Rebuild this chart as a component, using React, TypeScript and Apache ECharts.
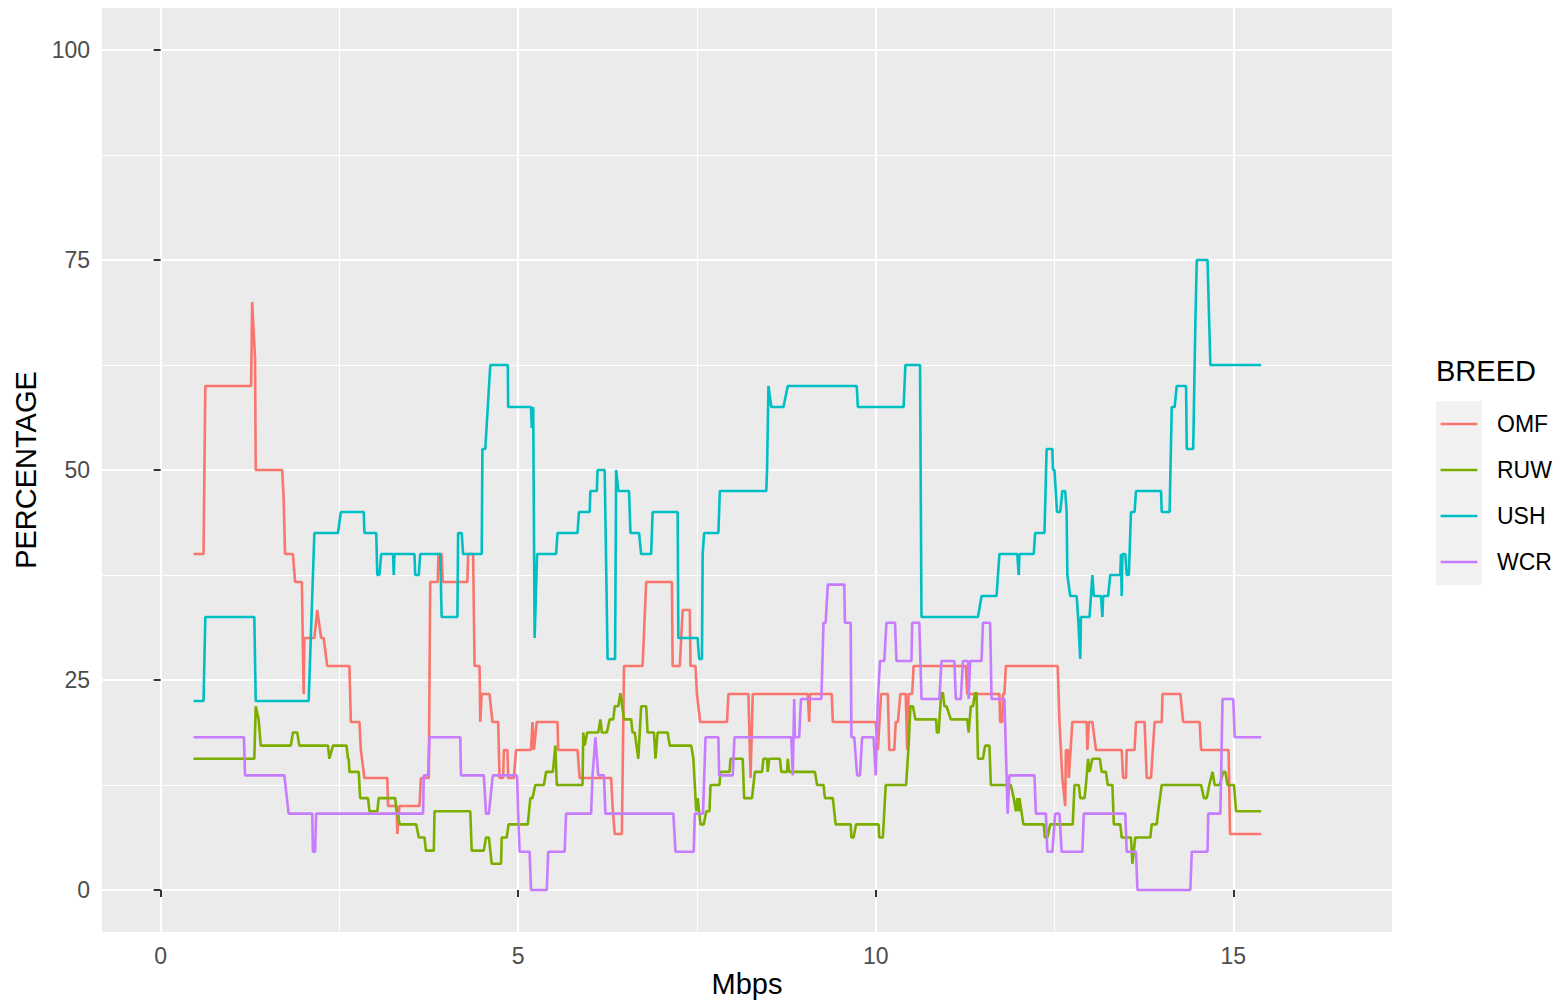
import React, { useEffect, useRef } from 'react';
import * as echarts from 'echarts';

const FONT = 'Liberation Sans, Arial, Helvetica, sans-serif';

const BREEDS = ['OMF', 'RUW', 'USH', 'WCR'];
const COLORS = ['#F8766D', '#7CAE00', '#00BFC4', '#C77CFF'];

const X_TICKS = [0, 5, 10, 15];
const X_MINOR = [2.5, 7.5, 12.5];
const Y_TICKS = [0, 25, 50, 75, 100];
const Y_MINOR = [12.5, 37.5, 62.5, 87.5];

const OMF = [
  [0.46, 40], [0.6, 40], [0.625, 60], [1.265, 60], [1.28, 70], [1.32, 63.33], [1.33, 50], [1.7, 50],
  [1.72, 46.67], [1.74, 40], [1.85, 40], [1.88, 36.67], [1.975, 36.67], [2.0, 23.33], [2.01, 30],
  [2.15, 30], [2.19, 33.33], [2.245, 30], [2.28, 30], [2.33, 26.67], [2.64, 26.67], [2.66, 20],
  [2.78, 20], [2.8, 16.67], [2.85, 13.33], [3.17, 13.33], [3.18, 10], [3.3, 10], [3.31, 6.67],
  [3.34, 10], [3.62, 10], [3.64, 13.33], [3.75, 13.33], [3.77, 36.67], [3.875, 36.67], [3.885, 40],
  [3.93, 40], [3.945, 36.67], [4.29, 36.67], [4.3, 40], [4.37, 40], [4.39, 26.67], [4.46, 26.67],
  [4.47, 20], [4.49, 23.33], [4.6, 23.33], [4.64, 20], [4.72, 20], [4.74, 13.33], [4.79, 13.33],
  [4.8, 16.67], [4.85, 16.67], [4.86, 13.33], [4.94, 13.33], [4.97, 16.67], [5.18, 16.67], [5.2, 20],
  [5.22, 16.67], [5.26, 20], [5.55, 20], [5.56, 16.67], [5.83, 16.67], [5.86, 13.33], [6.3, 13.33],
  [6.32, 10], [6.35, 6.67], [6.45, 6.67], [6.48, 26.67], [6.74, 26.67], [6.79, 36.67], [7.15, 36.67],
  [7.16, 26.67], [7.26, 26.67], [7.3, 33.33], [7.4, 33.33], [7.41, 26.67], [7.48, 26.67], [7.5, 23.33],
  [7.545, 20], [7.92, 20], [7.94, 23.33], [8.22, 23.33], [8.25, 13.33], [8.28, 23.33], [9.05, 23.33],
  [9.07, 20], [9.08, 23.33], [9.385, 23.33], [9.4, 20], [10.0, 20], [10.03, 16.67], [10.075, 23.33],
  [10.17, 23.33], [10.19, 16.67], [10.26, 16.67], [10.28, 20], [10.31, 20], [10.345, 23.33], [10.42, 23.33],
  [10.44, 16.67], [10.46, 23.33], [10.51, 23.33], [10.53, 26.67], [11.26, 26.67], [11.28, 23.33],
  [11.73, 23.33], [11.74, 20], [11.77, 20], [11.78, 23.33], [11.8, 23.33], [11.82, 26.67], [12.545, 26.67],
  [12.57, 20], [12.61, 13.33], [12.65, 10], [12.66, 16.67], [12.69, 16.67], [12.7, 13.33], [12.75, 20],
  [12.95, 20], [12.96, 16.67], [12.98, 20], [13.03, 20], [13.08, 16.67], [13.44, 16.67], [13.46, 13.33],
  [13.5, 13.33], [13.51, 16.67], [13.62, 16.67], [13.64, 20], [13.76, 20], [13.79, 13.33], [13.85, 13.33],
  [13.9, 20], [14.0, 20], [14.01, 23.33], [14.26, 23.33], [14.3, 20], [14.53, 20], [14.55, 16.67],
  [14.935, 16.67], [14.955, 6.67], [15.39, 6.67],
];

const RUW = [
  [0.46, 15.625], [1.31, 15.625], [1.33, 21.875], [1.37, 20.31], [1.4, 17.19], [1.82, 17.19], [1.85, 18.75],
  [1.91, 18.75], [1.94, 17.19], [2.34, 17.19], [2.36, 15.625], [2.41, 17.19], [2.6, 17.19], [2.62, 15.625],
  [2.63, 15.625], [2.64, 14.06], [2.77, 14.06], [2.79, 10.94], [2.9, 10.94], [2.92, 9.375], [3.03, 9.375],
  [3.05, 10.94], [3.28, 10.94], [3.3, 9.375], [3.345, 7.81], [3.575, 7.81], [3.61, 6.25], [3.69, 6.25],
  [3.71, 4.69], [3.82, 4.69], [3.83, 9.375], [4.33, 9.375], [4.35, 4.69], [4.52, 4.69], [4.55, 6.25],
  [4.59, 6.25], [4.63, 3.125], [4.76, 3.125], [4.77, 6.25], [4.84, 6.25], [4.865, 7.81], [5.135, 7.81],
  [5.17, 10.94], [5.2, 10.94], [5.24, 12.5], [5.36, 12.5], [5.39, 14.06], [5.485, 14.06], [5.52, 17.19],
  [5.54, 12.5], [5.9, 12.5], [5.91, 18.75], [5.93, 17.19], [5.965, 18.75], [6.12, 18.75], [6.15, 20.31],
  [6.17, 18.75], [6.24, 18.75], [6.28, 20.31], [6.33, 20.31], [6.35, 21.875], [6.4, 21.875], [6.43, 23.44],
  [6.455, 21.875], [6.48, 20.31], [6.58, 20.31], [6.6, 18.75], [6.63, 18.75], [6.68, 15.625], [6.72, 21.875],
  [6.79, 21.875], [6.81, 18.75], [6.9, 18.75], [6.92, 15.625], [6.95, 18.75], [7.09, 18.75], [7.12, 17.19],
  [7.42, 17.19], [7.45, 15.625], [7.49, 9.375], [7.51, 10.94], [7.55, 7.81], [7.595, 7.81], [7.63, 9.375],
  [7.675, 9.375], [7.69, 12.5], [7.815, 12.5], [7.83, 14.06], [7.955, 14.06], [7.97, 15.625], [8.14, 15.625],
  [8.16, 10.94], [8.27, 10.94], [8.29, 12.5], [8.31, 14.06], [8.41, 14.06], [8.43, 15.625], [8.48, 15.625],
  [8.49, 14.06], [8.51, 15.625], [8.66, 15.625], [8.68, 14.06], [8.76, 14.06], [8.77, 15.625], [8.79, 14.06],
  [9.15, 14.06], [9.18, 12.5], [9.27, 12.5], [9.29, 10.94], [9.4, 10.94], [9.44, 7.81], [9.65, 7.81],
  [9.66, 6.25], [9.69, 6.25], [9.725, 7.81], [10.04, 7.81], [10.05, 6.25], [10.1, 6.25], [10.12, 9.375],
  [10.14, 12.5], [10.425, 12.5], [10.46, 17.19], [10.485, 21.875], [10.52, 21.875], [10.555, 20.31],
  [10.845, 20.31], [10.855, 18.75], [10.88, 18.75], [10.915, 23.44], [10.94, 23.44], [10.96, 21.875],
  [10.99, 21.875], [11.05, 20.31], [11.28, 20.31], [11.3, 18.75], [11.33, 21.875], [11.36, 21.875],
  [11.39, 23.44], [11.41, 23.44], [11.43, 15.625], [11.5, 15.625], [11.53, 17.19], [11.59, 17.19],
  [11.61, 12.5], [11.89, 12.5], [11.93, 10.94], [11.96, 9.375], [11.98, 10.94], [12.0, 9.375], [12.01, 10.94],
  [12.065, 7.81], [12.35, 7.81], [12.365, 6.25], [12.4, 6.25], [12.44, 7.81], [12.755, 7.81], [12.78, 12.5],
  [12.84, 12.5], [12.86, 10.94], [12.92, 10.94], [12.94, 12.5], [12.97, 15.625], [12.99, 14.06],
  [13.03, 15.625], [13.135, 15.625], [13.16, 14.06], [13.22, 14.06], [13.245, 12.5], [13.31, 12.5],
  [13.33, 7.81], [13.42, 7.81], [13.44, 6.25], [13.57, 6.25], [13.59, 3.125], [13.63, 6.25], [13.84, 6.25],
  [13.86, 7.81], [13.93, 7.81], [13.95, 9.375], [14.0, 12.5], [14.55, 12.5], [14.59, 10.94], [14.63, 10.94],
  [14.665, 12.5], [14.71, 14.06], [14.74, 12.5], [14.81, 12.5], [14.86, 14.06], [14.89, 14.06], [14.92, 12.5],
  [15.01, 12.5], [15.04, 9.375], [15.39, 9.375],
];

const USH = [
  [0.46, 22.5], [0.6, 22.5], [0.625, 32.5], [1.31, 32.5], [1.33, 22.5], [2.07, 22.5], [2.1, 30], [2.15, 42.5],
  [2.48, 42.5], [2.52, 45], [2.84, 45], [2.85, 42.5], [3.015, 42.5], [3.03, 37.5], [3.06, 37.5], [3.085, 40],
  [3.25, 40], [3.26, 37.5], [3.27, 40], [3.55, 40], [3.56, 37.5], [3.61, 37.5], [3.63, 40], [3.91, 40],
  [3.93, 32.5], [4.15, 32.5], [4.16, 42.5], [4.21, 42.5], [4.23, 40], [4.49, 40], [4.5, 52.5], [4.54, 52.5],
  [4.61, 62.5], [4.855, 62.5], [4.86, 57.5], [5.18, 57.5], [5.19, 55], [5.21, 57.5], [5.23, 30], [5.265, 40],
  [5.53, 40], [5.55, 42.5], [5.83, 42.5], [5.85, 45], [6.0, 45], [6.01, 47.5], [6.1, 47.5], [6.11, 50],
  [6.21, 50], [6.25, 27.5], [6.355, 27.5], [6.37, 50], [6.4, 47.5], [6.55, 47.5], [6.57, 42.5], [6.69, 42.5],
  [6.72, 40], [6.86, 40], [6.88, 45], [7.23, 45], [7.24, 30], [7.51, 30], [7.53, 27.5], [7.57, 27.5],
  [7.58, 40], [7.6, 42.5], [7.8, 42.5], [7.82, 47.5], [8.47, 47.5], [8.48, 50], [8.5, 60], [8.54, 57.5],
  [8.71, 57.5], [8.77, 60], [9.735, 60], [9.75, 57.5], [10.39, 57.5], [10.415, 62.5], [10.62, 62.5],
  [10.64, 32.5], [11.43, 32.5], [11.48, 35], [11.69, 35], [11.73, 40], [11.98, 40], [12.0, 37.5], [12.01, 40],
  [12.21, 40], [12.23, 42.5], [12.36, 42.5], [12.39, 52.5], [12.47, 52.5], [12.48, 50], [12.5, 50],
  [12.535, 45], [12.58, 45], [12.61, 47.5], [12.65, 47.5], [12.67, 45], [12.68, 37.5], [12.72, 35],
  [12.81, 35], [12.83, 32.5], [12.86, 27.5], [12.87, 32.5], [12.99, 32.5], [13.03, 37.5], [13.05, 35],
  [13.15, 35], [13.17, 32.5], [13.18, 35], [13.25, 35], [13.28, 37.5], [13.42, 37.5], [13.43, 40],
  [13.44, 35], [13.45, 40], [13.49, 40], [13.51, 37.5], [13.54, 37.5], [13.57, 45], [13.62, 45],
  [13.64, 47.5], [13.99, 47.5], [14.0, 45], [14.11, 45], [14.14, 57.5], [14.18, 57.5], [14.21, 60],
  [14.34, 60], [14.35, 52.5], [14.44, 52.5], [14.47, 67.5], [14.49, 75], [14.64, 75], [14.68, 62.5],
  [15.39, 62.5],
];

const WCR = [
  [0.46, 18.18], [1.165, 18.18], [1.18, 13.64], [1.73, 13.64], [1.79, 9.09], [2.12, 9.09], [2.13, 4.545],
  [2.16, 4.545], [2.175, 9.09], [3.67, 9.09], [3.68, 13.64], [3.74, 13.64], [3.76, 18.18], [4.19, 18.18],
  [4.2, 13.64], [4.52, 13.64], [4.55, 9.09], [4.59, 9.09], [4.645, 13.64], [4.985, 13.64], [5.0, 9.09],
  [5.02, 4.545], [5.16, 4.545], [5.18, 0], [5.4, 0], [5.42, 4.545], [5.65, 4.545], [5.67, 9.09], [6.02, 9.09],
  [6.04, 13.64], [6.08, 18.18], [6.12, 13.64], [6.2, 13.64], [6.22, 9.09], [7.17, 9.09], [7.2, 4.545],
  [7.455, 4.545], [7.47, 9.09], [7.585, 9.09], [7.62, 18.18], [7.8, 18.18], [7.81, 13.64], [8.0, 13.64],
  [8.025, 18.18], [8.82, 18.18], [8.84, 13.64], [8.86, 22.73], [8.87, 18.18], [8.93, 18.18], [8.955, 22.73],
  [9.24, 22.73], [9.27, 31.82], [9.3, 31.82], [9.33, 36.36], [9.56, 36.36], [9.57, 31.82], [9.65, 31.82],
  [9.66, 18.18], [9.7, 18.18], [9.74, 13.64], [9.78, 13.64], [9.81, 18.18], [9.97, 18.18], [10.0, 13.64],
  [10.03, 22.73], [10.06, 27.27], [10.12, 27.27], [10.15, 31.82], [10.27, 31.82], [10.29, 27.27],
  [10.5, 27.27], [10.51, 31.82], [10.61, 31.82], [10.64, 22.73], [10.89, 22.73], [10.92, 27.27],
  [11.1, 27.27], [11.12, 22.73], [11.19, 22.73], [11.22, 27.27], [11.29, 27.27], [11.3, 22.73],
  [11.32, 27.27], [11.48, 27.27], [11.5, 31.82], [11.6, 31.82], [11.62, 22.73], [11.8, 22.73],
  [11.845, 9.09], [11.87, 13.64], [12.22, 13.64], [12.24, 9.09], [12.38, 9.09], [12.4, 4.545],
  [12.47, 4.545], [12.51, 9.09], [12.57, 9.09], [12.6, 4.545], [12.89, 4.545], [12.91, 9.09], [13.49, 9.09],
  [13.51, 4.545], [13.64, 4.545], [13.66, 0], [14.4, 0], [14.42, 4.545], [14.64, 4.545], [14.65, 9.09],
  [14.82, 9.09], [14.85, 22.73], [15.0, 22.73], [15.02, 18.18], [15.39, 18.18],
];

const SERIES_DATA = [OMF, RUW, USH, WCR];

const X_MIN = -0.82;
const X_MAX = 17.22;
const Y_MIN = -5;
const Y_MAX = 105;

export default function App() {
  const ref = useRef<HTMLDivElement>(null);

  useEffect(() => {
    if (!ref.current) return;
    const chart = echarts.init(ref.current, undefined, { renderer: 'svg' });

    const legendX = 1436;
    const legendTop = 401;
    const keySize = 46;
    const legendGraphics: any[] = [
      {
        type: 'text',
        left: legendX,
        top: 371 - 15,
        style: { text: 'BREED', font: `29px ${FONT}`, fill: '#000000' },
      },
      {
        type: 'rect',
        shape: { x: legendX, y: legendTop, width: keySize, height: keySize * BREEDS.length },
        style: { fill: '#F2F2F2' },
      },
    ];
    BREEDS.forEach((b, i) => {
      const cy = legendTop + keySize * i + keySize / 2;
      legendGraphics.push({
        type: 'line',
        shape: { x1: legendX + 4.6, y1: cy, x2: legendX + keySize - 4.6, y2: cy },
        style: { stroke: COLORS[i], lineWidth: 2.6 },
      });
      legendGraphics.push({
        type: 'text',
        x: 1497,
        y: cy,
        style: { text: b, font: `23px ${FONT}`, fill: '#000000', textVerticalAlign: 'middle', verticalAlign: 'middle' },
      });
    });

    const option: any = {
      animation: false,
      backgroundColor: '#FFFFFF',
      textStyle: { fontFamily: FONT },
      grid: {
        left: 102,
        top: 8,
        width: 1290,
        height: 924,
        show: true,
        backgroundColor: '#EBEBEB',
        borderWidth: 0,
        containLabel: false,
        outerBoundsMode: 'none',
      },
      xAxis: [
        {
          type: 'value',
          min: X_MIN,
          max: X_MAX,
          position: 'bottom',
          axisLine: { show: false },
          axisTick: { show: true, length: 7, lineStyle: { color: '#333333', width: 2 }, customValues: X_TICKS },
          axisLabel: { customValues: X_TICKS, color: '#4D4D4D', fontSize: 23, margin: 12, fontFamily: FONT },
          splitLine: { show: true, lineStyle: { color: '#FFFFFF', width: 2.2 } },
          name: 'Mbps',
          nameLocation: 'middle',
          nameGap: 38,
          nameMoveOverlap: false,
          nameTextStyle: { color: '#000000', fontSize: 29, lineHeight: 28, fontFamily: FONT },
        },
        {
          type: 'value',
          min: X_MIN,
          max: X_MAX,
          position: 'bottom',
          axisLine: { show: false },
          axisTick: { show: false, customValues: X_MINOR },
          axisLabel: { show: false, customValues: X_MINOR },
          splitLine: { show: true, lineStyle: { color: '#FFFFFF', width: 1.1 } },
        },
      ],
      yAxis: [
        {
          type: 'value',
          min: Y_MIN,
          max: Y_MAX,
          position: 'left',
          axisLine: { show: false },
          axisTick: { show: true, length: 7, lineStyle: { color: '#333333', width: 2 }, customValues: Y_TICKS },
          axisLabel: { customValues: Y_TICKS, color: '#4D4D4D', fontSize: 23, margin: 12, fontFamily: FONT },
          splitLine: { show: true, lineStyle: { color: '#FFFFFF', width: 2.2 } },
          name: 'PERCENTAGE',
          nameLocation: 'middle',
          nameGap: 62,
          nameRotate: 90,
          nameMoveOverlap: false,
          nameTextStyle: { color: '#000000', fontSize: 29, fontFamily: FONT },
        },
        {
          type: 'value',
          min: Y_MIN,
          max: Y_MAX,
          position: 'left',
          axisLine: { show: false },
          axisTick: { show: false, customValues: Y_MINOR },
          axisLabel: { show: false, customValues: Y_MINOR },
          splitLine: { show: true, lineStyle: { color: '#FFFFFF', width: 1.1 } },
        },
      ],
      series: BREEDS.map((b, i) => ({
        name: b,
        type: 'line',
        xAxisIndex: 0,
        yAxisIndex: 0,
        data: SERIES_DATA[i],
        showSymbol: false,
        symbol: 'none',
        smooth: false,
        lineStyle: { color: COLORS[i], width: 2.6 },
        itemStyle: { color: COLORS[i] },
        silent: true,
        z: 2 + i,
      })),
      graphic: legendGraphics,
    };

    chart.setOption(option);
    return () => chart.dispose();
  }, []);

  return (
    <div
      ref={ref}
      style={{ position: 'fixed', left: 0, top: 0, width: 1561, height: 1000, background: '#FFFFFF' }}
    />
  );
}
